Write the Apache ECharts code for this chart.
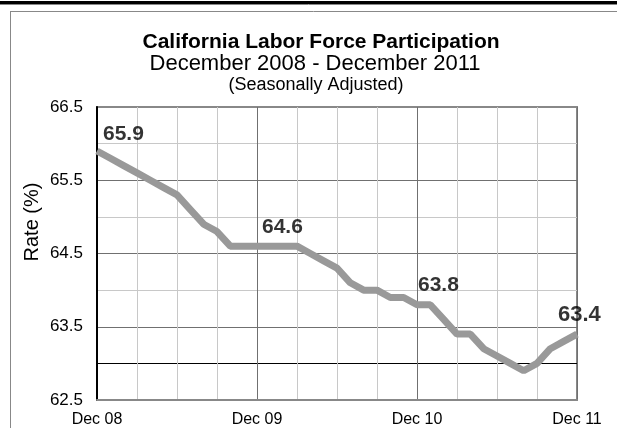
<!DOCTYPE html>
<html>
<head>
<meta charset="utf-8">
<script src="https://cdn.jsdelivr.net/npm/echarts@6/dist/echarts.min.js"></script>
<style>
html,body{margin:0;padding:0;background:#fff;}
#chart{width:617px;height:428px;}
</style>
</head>
<body>
<div id="chart"></div>
<script>
// Data (monthly, Dec 2008 - Dec 2011)
var months = ['Dec 08','Jan 09','Feb 09','Mar 09','Apr 09','May 09','Jun 09','Jul 09','Aug 09','Sep 09','Oct 09','Nov 09',
  'Dec 09','Jan 10','Feb 10','Mar 10','Apr 10','May 10','Jun 10','Jul 10','Aug 10','Sep 10','Oct 10','Nov 10',
  'Dec 10','Jan 11','Feb 11','Mar 11','Apr 11','May 11','Jun 11','Jul 11','Aug 11','Sep 11','Oct 11','Nov 11','Dec 11'];
var rates = [65.9,65.8,65.7,65.6,65.5,65.4,65.3,65.1,64.9,64.8,64.6,64.6,
  64.6,64.6,64.6,64.6,64.5,64.4,64.3,64.1,64.0,64.0,63.9,63.9,
  63.8,63.8,63.6,63.4,63.4,63.2,63.1,63.0,62.9,63.0,63.2,63.3,63.4];
var labeledIdx = [0, 12, 24, 36];
var xTickLabels = ['Dec 08','Dec 09','Dec 10','Dec 11'];
var yTickValues = [62.5, 63.5, 64.5, 65.5, 66.5];

// label placement styling (not data)
var labelOffsets = [[6,-1],[5,-3],[1,-3.5],[-19,-3]];
var labelSizes = [21,21,21,22];

var chart = echarts.init(document.getElementById('chart'), null, {renderer:'canvas'});

var lineData = rates.map(function(v,i){ return [i, v]; });
var labelData = labeledIdx.map(function(idx, k){
  return {
    value: [idx, rates[idx]],
    label: {
      show: true, position: 'top', distance: 5, align: 'left',
      offset: labelOffsets[k],
      formatter: rates[idx].toFixed(1),
      fontSize: labelSizes[k], fontWeight: 'bold', color: '#000',
      fontFamily: 'Liberation Sans, Arial, sans-serif'
    }
  };
});

var font = 'Liberation Sans, Arial, sans-serif';

var option = {
  animation: false,
  backgroundColor: '#fff',
  title: [
    {text: 'California Labor Force Participation', left: 316, top: 26.5, textAlign: 'center',
     textStyle: {fontSize: 21, fontWeight: 'bold', color: '#000', fontFamily: font}},
    {text: 'December 2008 - December 2011', left: 310, top: 48, textAlign: 'center',
     textStyle: {fontSize: 22, fontWeight: 'normal', color: '#000', fontFamily: font}},
    {text: '(Seasonally Adjusted)', left: 311, top: 71, textAlign: 'center',
     textStyle: {fontSize: 18, fontWeight: 'normal', color: '#000', fontFamily: font}}
  ],
  graphic: [
    {type: 'rect', shape: {x: 0, y: 1, width: 617, height: 3}, style: {fill: '#000'}, silent: true},
    {type: 'line', shape: {x1: 0, y1: 4.5, x2: 617, y2: 4.5}, style: {stroke: '#888', lineWidth: 1}, silent: true},
    {type: 'line', shape: {x1: 10.5, y1: 11, x2: 10.5, y2: 428}, style: {stroke: '#888', lineWidth: 1}, silent: true},
    {type: 'line', shape: {x1: 10, y1: 11.5, x2: 617, y2: 11.5}, style: {stroke: '#888', lineWidth: 1}, silent: true},
    {type: 'text', x: 32, y: 222, rotation: Math.PI/2,
     style: {text: 'Rate (%)', fontSize: 20, fontFamily: font, fill: '#000', textAlign: 'center', textVerticalAlign: 'middle'}}
  ],
  grid: {left: 97, right: 40, top: 107, bottom: 27, show: true, borderColor: '#888', borderWidth: 2, backgroundColor: 'transparent'},
  xAxis: {
    type: 'value', min: 0, max: months.length - 1, interval: 3,
    axisLine: {show: true, lineStyle: {color: '#888', width: 2}},
    axisTick: {show: false},
    axisLabel: {
      margin: 12, fontSize: 16, color: '#000', fontFamily: font,
      formatter: function(v){ return (v % 12 === 0) ? xTickLabels[v/12] : ''; }
    },
    splitLine: {show: true, lineStyle: {color: ['#707070','#c8c8c8','#c8c8c8','#c8c8c8'], width: 1}}
  },
  yAxis: {
    type: 'value', min: 62.5, max: 66.5, interval: 0.5,
    axisLine: {show: true, lineStyle: {color: '#000', width: 2}},
    axisTick: {show: false},
    axisLabel: {
      margin: 14, fontSize: 17, color: '#000', fontFamily: font,
      formatter: function(v){
        for (var i = 0; i < yTickValues.length; i++) { if (Math.abs(yTickValues[i]-v) < 1e-6) return v.toFixed(1); }
        return '';
      }
    },
    splitLine: {show: true, lineStyle: {color: ['#888','#000','#707070','#c8c8c8','#707070','#c8c8c8','#707070','#c8c8c8','#888'], width: 1}}
  },
  series: [
    {type: 'line', data: lineData, symbol: 'none', lineStyle: {color: '#999', width: 7}, z: 3},
    {type: 'scatter', data: labelData, symbolSize: 1, itemStyle: {color: 'rgba(0,0,0,0)'}, z: 4}
  ]
};
chart.setOption(option);
</script>
</body>
</html>
